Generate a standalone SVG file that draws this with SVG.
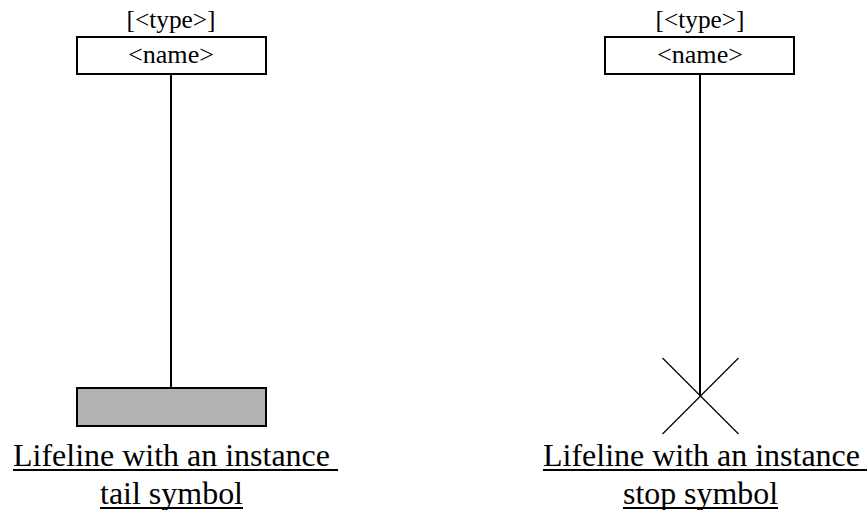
<svg xmlns="http://www.w3.org/2000/svg" width="867" height="510" viewBox="0 0 867 510">
<style>
  .box { fill: #ffffff; stroke: #000000; stroke-width: 2; }
  .tail { fill: #b3b3b3; stroke: #000000; stroke-width: 2; }
  .life { stroke: #000000; stroke-width: 2; fill: none; }
  .stop { stroke: #000000; stroke-width: 1.3; fill: none; }
  .ul { stroke: #000000; stroke-width: 2; }
  text { font-family: "Liberation Serif", Tinos, "Times New Roman", Times, "DejaVu Serif", serif; fill: #000000; }
  .lbl { font-size: 26px; text-anchor: middle; }
  .cap { font-size: 32px; }
</style>
<rect width="867" height="510" fill="#ffffff"/>
<g id="connectors">
  <line class="life" x1="171" y1="74" x2="171" y2="388"/>
  <line class="life" x1="700" y1="74" x2="700" y2="396"/>
</g>
<g id="lifeline-tail">
  <text class="lbl" x="171" y="28" textLength="89" lengthAdjust="spacingAndGlyphs">[&lt;type&gt;]</text>
  <rect class="box" x="77" y="37" width="189" height="37"/>
  <text class="lbl" x="171" y="63" textLength="86" lengthAdjust="spacingAndGlyphs">&lt;name&gt;</text>
</g>
<g id="tail-symbol">
  <rect class="tail" x="77" y="388" width="189" height="38"/>
</g>
<g id="caption-tail">
  <text class="cap" x="13" y="466" textLength="317" lengthAdjust="spacingAndGlyphs">Lifeline with an instance</text>
  <line class="ul" x1="13" y1="470" x2="338" y2="470"/>
  <text class="cap" x="100" y="504" textLength="143" lengthAdjust="spacingAndGlyphs">tail symbol</text>
  <line class="ul" x1="100" y1="508" x2="243" y2="508"/>
</g>
<g id="lifeline-stop">
  <text class="lbl" x="700" y="28" textLength="89" lengthAdjust="spacingAndGlyphs">[&lt;type&gt;]</text>
  <rect class="box" x="605" y="37" width="189" height="37"/>
  <text class="lbl" x="700" y="63" textLength="86" lengthAdjust="spacingAndGlyphs">&lt;name&gt;</text>
</g>
<g id="stop-symbol">
  <line class="stop" x1="662.5" y1="358" x2="738.5" y2="434"/>
  <line class="stop" x1="738.5" y1="358" x2="662.5" y2="434"/>
</g>
<g id="caption-stop">
  <text class="cap" x="543" y="466" textLength="317" lengthAdjust="spacingAndGlyphs">Lifeline with an instance</text>
  <line class="ul" x1="543" y1="470" x2="867" y2="470"/>
  <text class="cap" x="623" y="504" textLength="155" lengthAdjust="spacingAndGlyphs">stop symbol</text>
  <line class="ul" x1="623" y1="508" x2="778" y2="508"/>
</g>
</svg>
